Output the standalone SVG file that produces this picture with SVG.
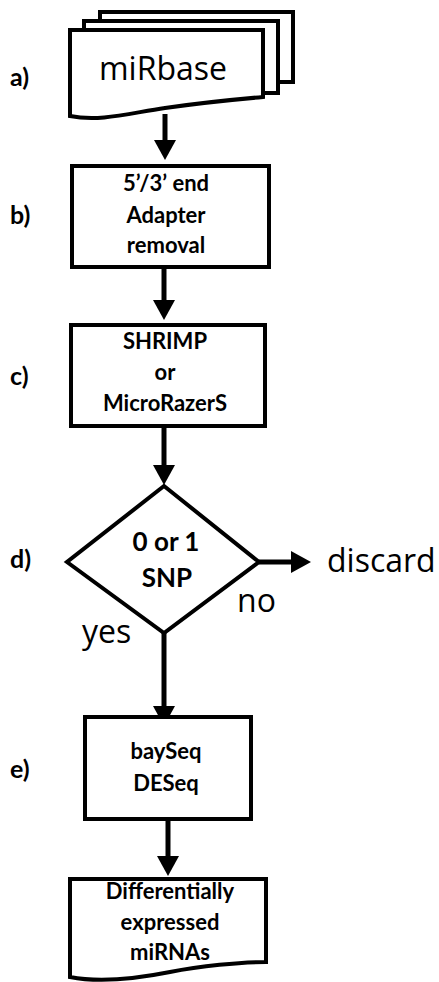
<svg xmlns="http://www.w3.org/2000/svg" width="439" height="982" viewBox="0 0 439 982">
<style>
.shape{fill:#fff;stroke:#000;stroke-width:4;stroke-linejoin:miter}
.conn{stroke:#000;stroke-width:5;fill:none}
.lbl{font-family:Lato,"Open Sans","Liberation Sans",sans-serif;font-size:25px;font-weight:bold;fill:#000}
.big{font-family:"Open Sans","Liberation Sans",sans-serif;font-size:32px;fill:#000}
.box{font-family:Lato,"Open Sans","Liberation Sans",sans-serif;font-size:22px;font-weight:bold;fill:#000;text-anchor:middle}
.dia{font-family:Lato,"Open Sans","Liberation Sans",sans-serif;font-size:26px;font-weight:bold;fill:#000;text-anchor:middle}
</style>
<defs>
<marker id="ah" viewBox="0 0 20 22" refX="1" refY="11" markerWidth="20" markerHeight="22" markerUnits="userSpaceOnUse" orient="auto">
<path d="M0,0 L20,11 L0,22 Z" fill="#000"/>
</marker>
</defs>

<g id="labels">
<text class="lbl" x="10" y="86">a)</text>
<text class="lbl" x="10" y="224">b)</text>
<text class="lbl" x="10" y="385">c)</text>
<text class="lbl" x="10" y="568">d)</text>
<text class="lbl" x="10" y="778">e)</text>
</g>

<g id="connectors">
<line class="conn" x1="165" y1="114" x2="165" y2="141" marker-end="url(#ah)"/>
<line class="conn" x1="164" y1="267" x2="164" y2="301" marker-end="url(#ah)"/>
<line class="conn" x1="164" y1="426" x2="164" y2="466" marker-end="url(#ah)"/>
<line class="conn" x1="259" y1="562" x2="292" y2="562" marker-end="url(#ah)"/>
<line class="conn" x1="164" y1="633" x2="164" y2="707" marker-end="url(#ah)"/>
<line class="conn" x1="168" y1="819" x2="168" y2="857" marker-end="url(#ah)"/>
</g>

<g id="node-a">
<rect class="shape" x="100" y="12" width="193" height="70"/>
<rect class="shape" x="84" y="21" width="194" height="72"/>
<path class="shape" d="M70,30 H263 V97 C240,99 200,103 165,108 S100,122 70,116 Z"/>
<text class="big" x="163" y="80" text-anchor="middle" font-size="33">miRbase</text>
</g>

<g id="node-b">
<rect class="shape" x="72" y="166" width="197" height="101"/>
<text class="box" x="166" y="191">5’/3’ end</text>
<text class="box" x="166" y="223">Adapter</text>
<text class="box" x="166" y="253">removal</text>
</g>

<g id="node-c">
<rect class="shape" x="71" y="325" width="194" height="101"/>
<text class="box" x="165" y="349">SHRIMP</text>
<text class="box" x="165" y="380">or</text>
<text class="box" x="165" y="411">MicroRazerS</text>
</g>

<g id="node-d">
<polygon class="shape" points="164,486 259,562 164,633 67,562"/>
<text class="dia" x="166" y="551">0 or 1</text>
<text class="dia" x="167" y="587">SNP</text>
</g>

<g id="edge-labels">
<text class="big" x="327" y="572">discard</text>
<text class="big" x="237" y="612">no</text>
<text class="big" x="82" y="643">yes</text>
</g>

<g id="node-e">
<rect class="shape" x="85" y="717" width="166" height="102"/>
<text class="box" x="166" y="759">baySeq</text>
<text class="box" x="166" y="791">DESeq</text>
</g>

<g id="node-f">
<path class="shape" d="M70,879 H266 V962 C240,962 200,966 170,972 S100,983 70,977 Z"/>
<text class="box" x="170" y="899">Differentially</text>
<text class="box" x="170" y="930">expressed</text>
<text class="box" x="170" y="960">miRNAs</text>
</g>
</svg>
